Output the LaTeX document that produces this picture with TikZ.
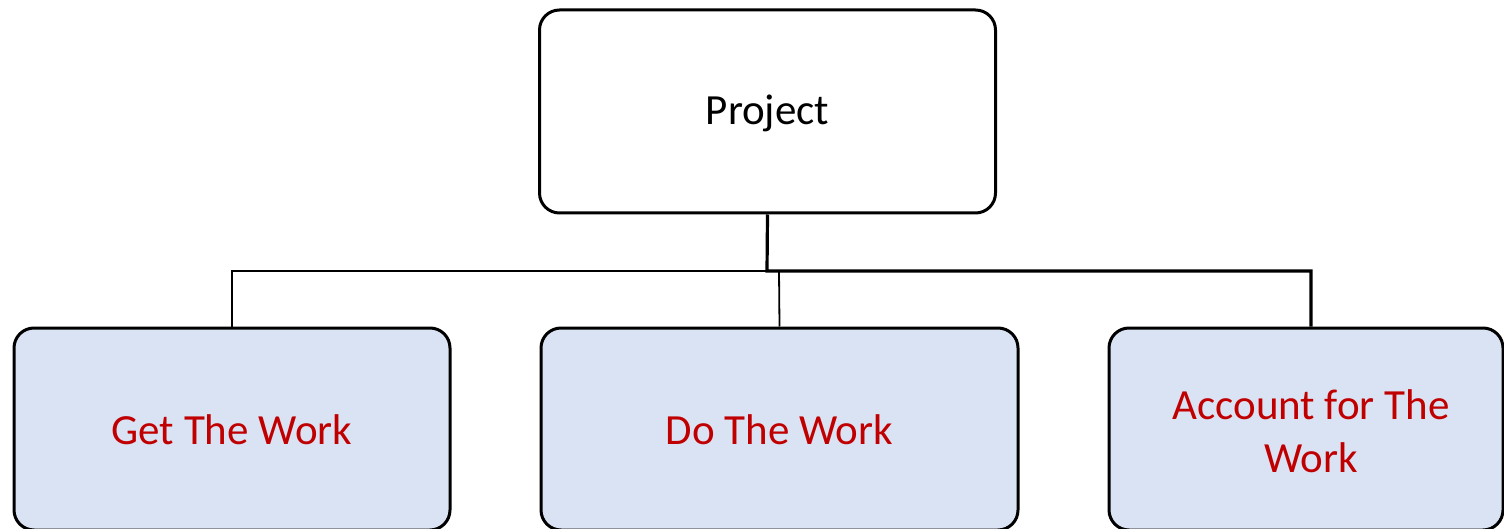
\documentclass[tikz,border=0pt]{standalone}
\usepackage{fontspec}
\setmainfont{Carlito}
\definecolor{boxfill}{HTML}{DAE3F3}
\definecolor{labelred}{HTML}{C00000}
% place a label with its baseline a fixed distance below the node centre
\newcommand{\droplabel}[2]{\raisebox{-#1}[0pt][0pt]{#2}}
\begin{document}
\begin{tikzpicture}[x=1pt,y=-1pt,
  card/.style={draw=black, line width=3pt, rounded corners=20pt, inner sep=0pt,
    anchor=center, align=center, font=\fontsize{43}{53}\selectfont},
  childcard/.style={card, fill=boxfill, text=labelred},
  thinlink/.style={line width=1.8pt},
  thicklink/.style={line width=3.2pt}]
\useasboundingbox (0,0) rectangle (1504,529);
\fill[white] (0,0) rectangle (1504,529);
% parent
\node[card, minimum width=456pt, minimum height=203pt] (project) at (767.5,111.5) {\droplabel{13.5pt}{Project}};
% children
\node[childcard, minimum width=436pt, minimum height=202pt] (get) at (232,429) {\droplabel{15pt}{Get The Work}};
\node[childcard, minimum width=477pt, minimum height=202pt] (do) at (779.5,429) {\droplabel{15pt}{Do The Work}};
\node[childcard, minimum width=394pt, minimum height=202pt] (account) at (1306,429) {};
\node[text=labelred, align=center, font=\fontsize{43}{53}\selectfont] (accounttext) at (1311,431) {Account for The\\Work};
% branch points on the bus line
\coordinate (bus) at (767,271);
\coordinate (dotap) at (779,271);
\coordinate (acctap) at ([xshift=5pt]account.north);
% connectors
\draw[thinlink] (bus) -| (get.north);
\draw[thinlink] (dotap) -- (do.north);
\draw[thicklink] (project.south) -- (bus) -| (acctap);
\end{tikzpicture}
\end{document}
